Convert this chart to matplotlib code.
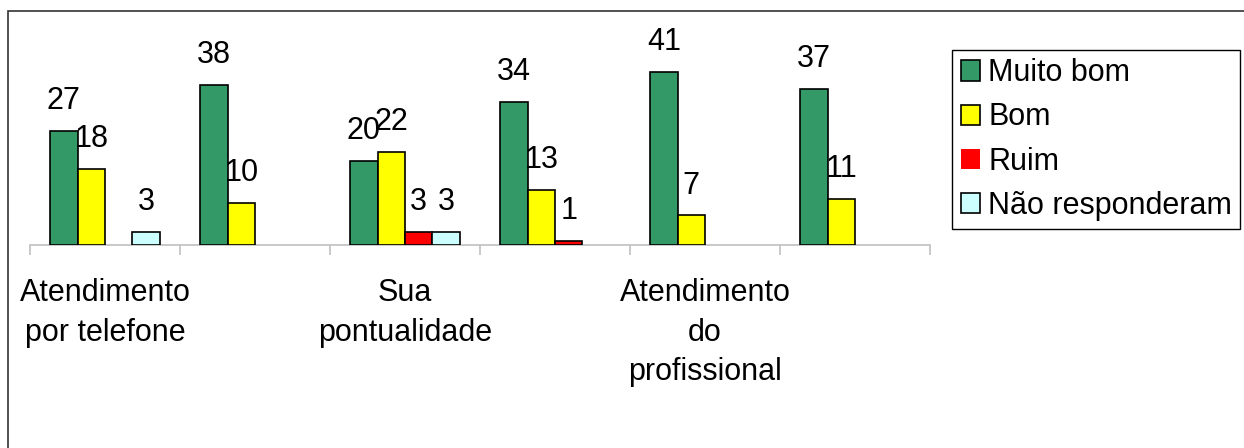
import matplotlib
matplotlib.use('Agg')
import matplotlib.pyplot as plt
from matplotlib.patches import Rectangle
import numpy as np

plt.rcParams['font.family'] = ['Liberation Sans', 'DejaVu Sans']

# dados (rótulos das categorias pares não aparecem)
categorias = ['Atendimento\npor telefone', '', 'Sua\npontualidade', '',
              'Atendimento\ndo\nprofissional', '']
series = ['Muito bom', 'Bom', 'Ruim', 'Não responderam']
muito_bom = [27, 38, 20, 34, 41, 37]
bom = [18, 10, 22, 13, 7, 11]
ruim = [0, 0, 3, 1, 0, 0]
nao_resp = [3, 0, 3, 0, 0, 0]
valores = [muito_bom, bom, ruim, nao_resp]
cores = ['#339966', '#FFFF00', '#FF0000', '#CCFFFF']

W, H = 1244, 448
fig = plt.figure(figsize=(W / 100, H / 100), dpi=100)

# área do gráfico: eixo x de 30 a 930 px, linha base em y=245, 4.22 px por unidade
ymax = 50
ax = fig.add_axes([30 / W, (H - 245) / H, 900 / W, 4.22 * ymax / H])

x = np.arange(len(categorias))
w = 0.1833
for i, (nome, vals, cor) in enumerate(zip(series, valores, cores)):
    pos = x + (i - 1.5) * w
    lw = [1.2 if v > 0 else 0 for v in vals]
    ax.bar(pos, vals, width=w, color=cor, edgecolor='black', linewidth=lw,
           label=nome, zorder=3)
    for p, v in zip(pos, vals):
        if v > 0:
            ax.annotate(str(v), (p, v), xytext=(0, 15.8), textcoords='offset points',
                        ha='center', va='baseline', fontsize=22)

ax.set_xlim(-0.5, len(categorias) - 0.5)
ax.set_ylim(0, ymax)
ax.set_yticks([])
for s in ['top', 'right', 'left']:
    ax.spines[s].set_visible(False)
ax.spines['bottom'].set_color('#c0c0c0')
ax.spines['bottom'].set_linewidth(1.2)
ax.spines['bottom'].set_zorder(2)
ax.set_xticks(x)
ax.set_xticklabels(categorias, fontsize=22, linespacing=1.4)
ax.tick_params(axis='x', which='major', length=0, pad=24)
ax.set_xticks(np.arange(-0.5, len(categorias)), minor=True)
ax.tick_params(axis='x', which='minor', length=7.2, width=1.2, color='#c0c0c0')
ax.patch.set_visible(False)

leg = ax.legend(loc='center left', bbox_to_anchor=(952 / W, (H - 139.5) / H),
                bbox_transform=fig.transFigure, fontsize=22, frameon=True,
                fancybox=False, edgecolor='black', framealpha=1,
                handlelength=0.65, handleheight=0.65, handletextpad=0.25,
                labelspacing=0.46, borderpad=0.28, borderaxespad=0)
leg.get_frame().set_linewidth(1.0)

# moldura externa (direita e base ficam fora da imagem)
fig.patches.append(Rectangle((8 / W, -0.1), 1.2, 1.1 - 11 / H, transform=fig.transFigure,
                             fill=False, edgecolor='#333333', linewidth=1.2))

fig.savefig('out.png', dpi=100)
